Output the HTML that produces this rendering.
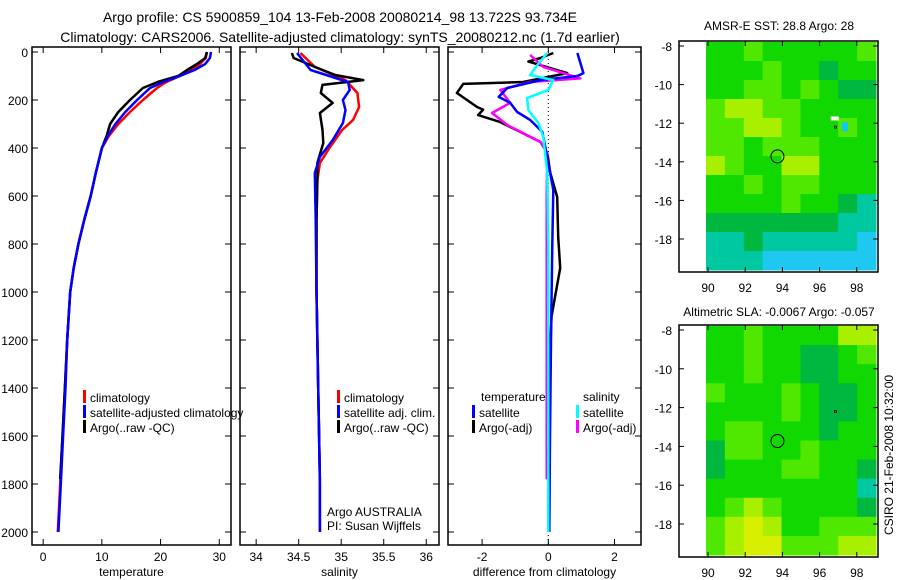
<!DOCTYPE html>
<html><head><meta charset="utf-8"><style>
html,body{margin:0;padding:0;background:#fff;}
svg{display:block;font-family:"Liberation Sans",sans-serif;}
</style></head><body>
<svg id="c" width="900" height="580" viewBox="0 0 900 580" xmlns="http://www.w3.org/2000/svg">
<text x="340" y="22" font-size="14" text-anchor="middle">Argo profile: CS 5900859_104 13-Feb-2008 20080214_98 13.722S 93.734E</text>
<text x="340" y="42" font-size="14" text-anchor="middle">Climatology: CARS2006. Satellite-adjusted climatology: synTS_20080212.nc (1.7d earlier)</text>
<text x="779" y="30" font-size="12" text-anchor="middle">AMSR-E SST: 28.8 Argo: 28</text>
<text x="779" y="316" font-size="12" text-anchor="middle">Altimetric SLA: -0.0067 Argo: -0.057</text>
<text transform="translate(893,455) rotate(-90)" font-size="12" text-anchor="middle">CSIRO 21-Feb-2008 10:32:00</text>
<g id="g"></g>
</svg>
<script>
// ---- data ----
const depths = [0,25,50,75,100,125,150,200,250,300,350,400,500,600,700,800,900,1000,1200,1400,1600,1800,2000];
const tempClim = [27.9,27.7,26.7,25,23.3,21,19.4,17,14.8,12.8,11.2,10,9,8.1,7,6.0,5.2,4.6,4.1,3.7,3.3,2.9,2.5];
const tempSat  = [28.6,28.4,27.6,25.8,23.3,20.5,18.2,16,14,12.3,11,10,9,8.1,7,6.0,5.2,4.6,4.1,3.8,3.4,3.0,2.6];
const argoDepths = [0,25,50,75,100,125,150,200,250,300,350,400,500,600,700,800,900,1000,1200,1400,1600,1780];
const tempArgo = [27.9,27.6,26.2,24.5,23,19.5,17,14.8,12.8,11.4,10.8,10,9,8.1,7,6.0,5.2,4.6,4.1,3.7,3.3,2.9];

const salDepths = [4,62,117,171,229,283,325,396,462,533,700,1000,1200,1400,1600,1800,2000];
const salClim = [34.52,34.69,35.05,35.19,35.21,35.14,35.01,34.87,34.75,34.72,34.71,34.71,34.72,34.73,34.74,34.75,34.75];
const salSatDepths = [4,75,125,158,200,242,296,367,437,504,700,1000,1200,1400,1600,1800,2000];
const salSat = [34.48,34.64,35.08,35.1,35.02,35.05,35.02,34.9,34.75,34.69,34.7,34.71,34.72,34.73,34.74,34.75,34.75];
const salArgoDepths = [4,25,62,96,117,137,171,212,254,325,379,462,521,700,1000,1400,1780];
const salArgo = [34.42,34.44,34.69,34.93,35.26,34.78,34.76,34.9,34.75,34.78,34.79,34.72,34.72,34.71,34.71,34.73,34.75];

const dTempArgoDepths = [4,25,40,88,125,133,171,229,240,263,292,333,375,421,504,604,771,900,1100,1400,1780];
const dTempArgo = [0.15,-0.24,-0.6,0.57,-0.76,-2.57,-2.76,-2.15,-1.97,-2.12,-1.45,-0.85,-0.24,-0.03,0.06,0.27,0.3,0.36,0.1,0,-0.03];
const dTempSatDepths = [4,88,100,117,150,187,212,250,283,333,396,462,575,800,1200,1600,2000];
const dTempSat = [0.88,1.06,0.88,-0.24,-1.24,-1.5,-1.15,-0.94,-0.55,-0.18,-0.09,0,0.15,0.12,0.08,0.05,0.03];
const dSalArgoDepths = [12,62,110,125,158,212,254,304,375,421,600,1000,1400,1780];
const dSalArgo = [-0.55,-0.15,0.97,-0.55,-1.45,-1.15,-1.7,-1.24,-0.24,-0.03,-0.05,-0.05,-0.05,-0.05];
const dSalSatDepths = [4,54,96,117,158,192,242,296,354,504,800,1200,1600,2000];
const dSalSat = [-0.03,-0.33,-0.55,0.15,0,-0.64,-0.6,-0.3,-0.15,-0.03,0,0,0,0];

const depthTicks = [0,200,400,600,800,1000,1200,1400,1600,1800,2000];
const tempTicks = [0,10,20,30];
const salTicks = [34,34.5,35,35.5,36];
const diffTicks = [-2,0,2];
const latTicks = [-8,-10,-12,-14,-16,-18];
const lonTicks = [90,92,94,96,98];

const sstGrid = [
[3,3,4,3,3,3,3,3,4],
[3,3,3,4,3,3,2,3,3],
[3,3,4,4,3,4,3,2,2],
[4,5,5,4,4,3,3,3,3],
[4,4,5,5,4,3,3,4,3],
[4,4,3,4,4,4,3,3,3],
[5,4,3,3,5,5,3,3,3],
[3,3,4,3,4,4,3,3,3],
[3,3,3,3,4,3,3,2,1],
[2,2,2,2,2,2,2,1,1],
[1,1,2,1,1,1,1,1,0],
[1,1,1,0,0,0,0,0,0]];
const slaGrid = [
[3,3,4,3,3,3,3,5,5],
[3,3,4,3,3,2,2,3,4],
[3,3,4,3,3,2,2,3,3],
[4,3,3,3,4,3,2,2,3],
[3,3,3,3,4,3,2,2,3],
[3,4,4,3,3,3,2,3,3],
[2,4,4,3,3,4,3,3,3],
[2,3,3,3,4,4,3,3,2],
[3,3,3,3,3,3,3,3,1],
[3,4,5,4,3,3,3,3,2],
[4,5,6,5,3,3,4,4,4],
[4,5,6,6,4,4,4,5,5]];
const argoLon = 93.734, argoLat = -13.722;

// ---- drawing ----
const NS='http://www.w3.org/2000/svg';
const G=document.getElementById('g');
function mk(tag,attrs,parent){const e=document.createElementNS(NS,tag);for(const k in attrs)e.setAttribute(k,attrs[k]);(parent||G).appendChild(e);return e;}
const yD = d => 52 + d*0.24;

function panel(name,x0,x1,xmin,xmax,ticks,tickFmt,xlabel,showY){
  const sx = v => x0 + (v-xmin)/(xmax-xmin)*(x1-x0);
  const g=mk('g',{});
  
  
  const fr=mk('rect',{x:x0,y:47,width:x1-x0,height:498,fill:'none',stroke:'#000','stroke-width':1.5},g);
  
  
  ticks.forEach(t=>{
    const x=sx(t);
    mk('line',{x1:x,x2:x,y1:545,y2:539,stroke:'#000'},g);
    mk('line',{x1:x,x2:x,y1:47,y2:53,stroke:'#000'},g);
    const tl=mk('text',{x:x,y:561,'font-size':12,'text-anchor':'middle'},g);
    tl.textContent=tickFmt(t);
    
    
  });
  depthTicks.forEach(d=>{
    const y=yD(d);
    mk('line',{x1:x0,x2:x0+6,y1:y,y2:y,stroke:'#000'},g);
    mk('line',{x1:x1,x2:x1-6,y1:y,y2:y,stroke:'#000'},g);
    if(showY){
      const tl=mk('text',{x:28,y:y+5,'font-size':12,'text-anchor':'end'},g);
      tl.textContent=d;
      
      
    }
  });
  const xl=mk('text',{x:(x0+x1)/2,y:576,'font-size':12,'text-anchor':'middle'},g);
  xl.textContent=xlabel;
  
  
  return {sx,g};
}
function line(p,ds,vs,color,w,nm){
  const pts=ds.map((d,i)=>p.sx(vs[i]).toFixed(1)+','+yD(d).toFixed(1)).join(' ');
  const l=mk('polyline',{points:pts,fill:'none',stroke:color,'stroke-width':w,'stroke-linejoin':'round'},p.g);
  
  
}
function legend(p,x,y,color,text,nm,clip){
  const m=mk('rect',{x:x,y:y-10,width:3,height:13,fill:color},p.g);
  
  
  const t=mk('text',{x:x+7,y:y+2,'font-size':12},p.g);
  t.textContent=text;
  if(clip) t.setAttribute('clip-path','url(#'+clip+')');
  
  
}
const defs=mk('defs',{});
const cp=mk('clipPath',{id:'p1clip'},defs);
mk('rect',{x:32,y:47,width:212,height:498},cp);

// Panel 1 temperature
const p1=panel('temperature-panel',32,231,-1.9,32,tempTicks,t=>t,'temperature',true);
line(p1,depths,tempClim,'#ff0000',2.5,'temperature-climatology-line');
line(p1,argoDepths,tempArgo,'#000',2.5,'temperature-argo-line');
line(p1,depths,tempSat,'#0000ff',2.5,'temperature-satellite-line');
legend(p1,83,400,'#ff0000','climatology','temperature-legend-climatology');
legend(p1,83,415,'#0000ff','satellite-adjusted climatology','temperature-legend-satellite','p1clip');
legend(p1,83,430,'#000','Argo(..raw -QC)','temperature-legend-argo');

// Panel 2 salinity
const p2=panel('salinity-panel',240,439,33.81,36.15,salTicks,t=>t,'salinity',false);
line(p2,salDepths,salClim,'#ff0000',2.5,'salinity-climatology-line');
line(p2,salArgoDepths,salArgo,'#000',2.5,'salinity-argo-line');
line(p2,salSatDepths,salSat,'#0000ff',2.5,'salinity-satellite-line');
legend(p2,337,400,'#ff0000','climatology','salinity-legend-climatology');
legend(p2,337,415,'#0000ff','satellite adj. clim.','salinity-legend-satellite');
legend(p2,337,430,'#000','Argo(..raw -QC)','salinity-legend-argo');
[['Argo AUSTRALIA',516],['PI: Susan Wijffels',530]].forEach(([s,y])=>{
  const t=mk('text',{x:327,y:y,'font-size':12},p2.g);t.textContent=s;
  
  
});

// Panel 3 differences
const p3=panel('difference-panel',448,641,-3.03,2.8,diffTicks,t=>t,'difference from climatology',false);
mk('line',{x1:p3.sx(0),x2:p3.sx(0),y1:47,y2:545,stroke:'#000','stroke-dasharray':'1,3'},p3.g);
line(p3,dTempArgoDepths,dTempArgo,'#000',2.5,'diff-temperature-argo-line');
line(p3,dSalArgoDepths,dSalArgo,'#ff00ff',2.5,'diff-salinity-argo-line');
line(p3,dTempSatDepths,dTempSat,'#0000ff',2.5,'diff-temperature-satellite-line');
line(p3,dSalSatDepths,dSalSat,'#00ffff',2.5,'diff-salinity-satellite-line');
{const t=mk('text',{x:481,y:401,'font-size':12},p3.g);t.textContent='temperature';


const t2=mk('text',{x:583,y:401,'font-size':12},p3.g);t2.textContent='salinity';

}
legend(p3,472,415,'#0000ff','satellite','diff-legend-temp-satellite');
legend(p3,472,430,'#000','Argo(-adj)','diff-legend-temp-argo');
legend(p3,576,415,'#00ffff','satellite','diff-legend-sal-satellite');
legend(p3,576,430,'#ff00ff','Argo(-adj)','diff-legend-sal-argo');

// Maps
const palette=['#1ec8f0','#00c8a0','#00b840','#10d800','#50e800','#a8f000','#d8f000'];
function map(name,top,bot,grid,extras){
  const x0=679,x1=878;
  const lonX=l=>708+(l-90)*18.6;
  const y8=top+5, latY=a=>y8+(-8-a)*((bot-top-38)/10);
  const g=mk('g',{});
  
  
  const rows=grid.length, cols=grid[0].length;
  const dx0=706,dx1=876,dy0=top+1,dy1=bot-2;
  grid.forEach((row,r)=>row.forEach((v,c)=>{
    const cell=mk('rect',{x:dx0+c*(dx1-dx0)/cols,y:dy0+r*(dy1-dy0)/rows,width:(dx1-dx0)/cols+0.5,height:(dy1-dy0)/rows+0.5,fill:palette[v]},g);
    
    
  }));
  if(extras) extras(g,lonX,latY);
  const c=mk('circle',{cx:lonX(argoLon),cy:latY(argoLat),r:6.5,fill:'none',stroke:'#000','stroke-width':1},g);
  
  
  mk('rect',{x:lonX(96.85)-1,y:latY(-12.2)-1,width:2,height:2,fill:'none',stroke:'#000','stroke-width':0.8},g);
  const fr=mk('rect',{x:x0,y:top,width:x1-x0,height:bot-top,fill:'none',stroke:'#000','stroke-width':1.5},g);
  
  
  latTicks.forEach(a=>{const y=latY(a);
    mk('line',{x1:x0,x2:x0+5,y1:y,y2:y,stroke:'#000'},g);mk('line',{x1:x1,x2:x1-5,y1:y,y2:y,stroke:'#000'},g);
    const t=mk('text',{x:672,y:y+5,'font-size':12,'text-anchor':'end'},g);t.textContent=a;
    
    });
  lonTicks.forEach(l=>{const x=lonX(l);
    mk('line',{x1:x,x2:x,y1:bot,y2:bot-5,stroke:'#000'},g);mk('line',{x1:x,x2:x,y1:top,y2:top+5,stroke:'#000'},g);
    const t=mk('text',{x:x,y:bot+20,'font-size':12,'text-anchor':'middle'},g);t.textContent=l;
    
    });
}
map('sst-map',41,272,sstGrid,(g,lonX,latY)=>{
  mk('rect',{x:lonX(96.6),y:latY(-11.65),width:8,height:4,fill:'#fff'},g);
  mk('rect',{x:lonX(97.2),y:latY(-11.95),width:6,height:9,fill:'#10c8f0'},g);
});
map('sla-map',325,557,slaGrid,null);
</script>
</body></html>
